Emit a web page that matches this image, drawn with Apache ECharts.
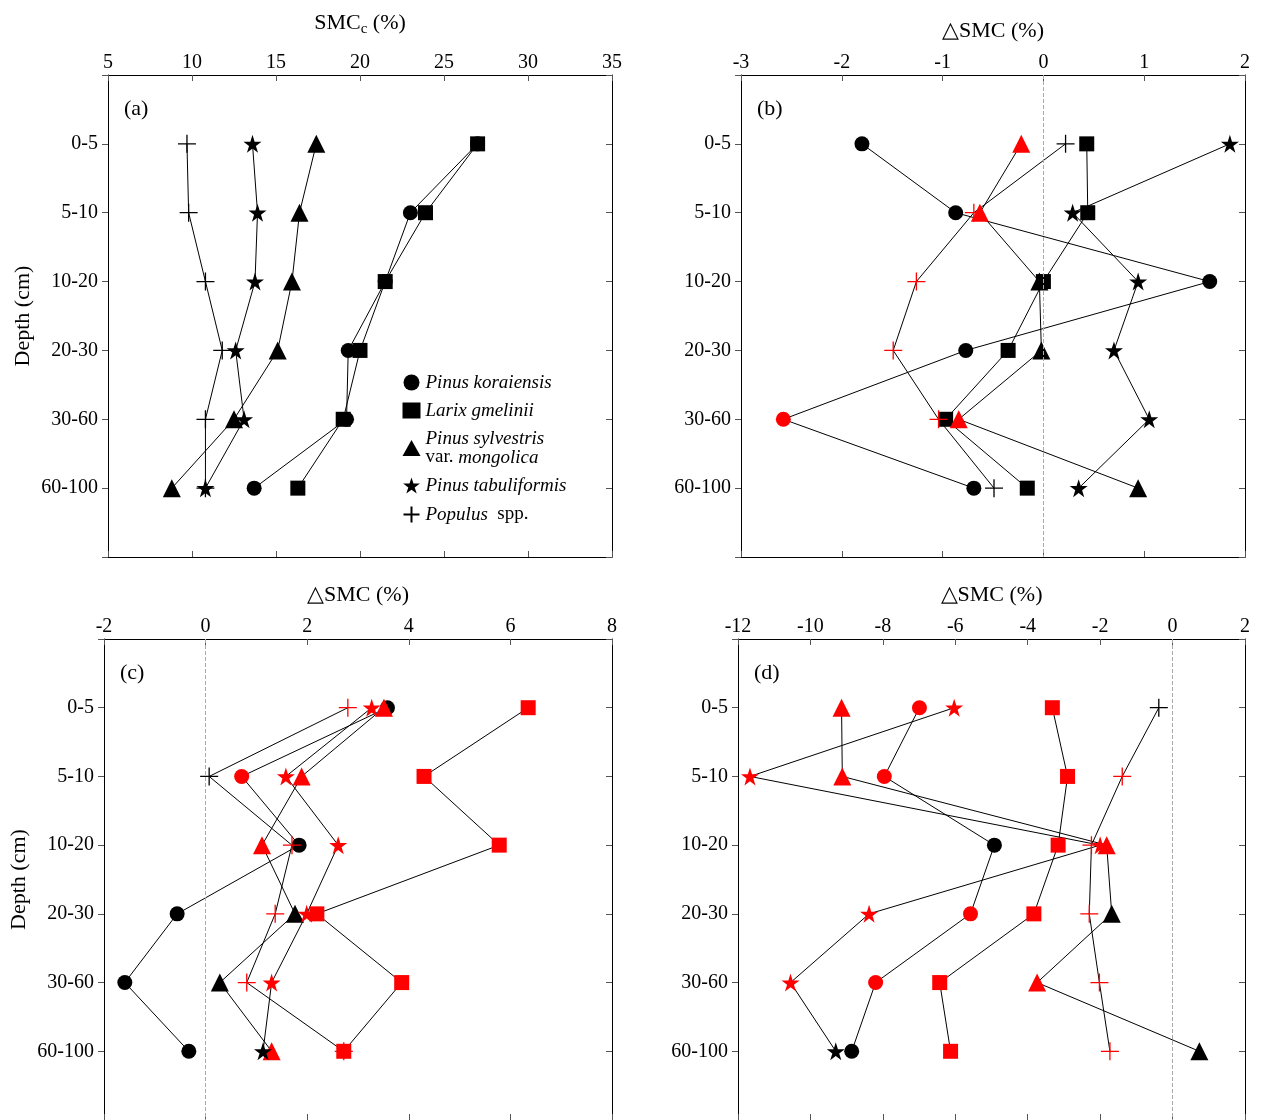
<!DOCTYPE html>
<html>
<head>
<meta charset="utf-8">
<script src="https://cdn.jsdelivr.net/npm/echarts@6/dist/echarts.min.js"></script>
<style>
  html,body{margin:0;padding:0;background:#fff;}
  #chart{width:1261px;height:1120px;}
</style>
</head>
<body>
<div id="chart"></div>
<script>
// depth classes (rows 1..6)
const depths = ["0-5", "5-10", "10-20", "20-30", "30-60", "60-100"];
const speciesNames = ["Pinus koraiensis", "Larix gmelinii", "Pinus sylvestris var. mongolica", "Pinus tabuliformis", "Populus spp."];

// (a) SMCc (%)
const aKor = [27.0, 23.0, 21.5, 19.3, 19.2, 13.7];
const aLar = [27.0, 23.9, 21.5, 20.0, 19.0, 16.3];
const aSyl = [17.4, 16.4, 15.95, 15.1, 12.5, 8.8];
const aTab = [13.6, 13.9, 13.75, 12.6, 13.1, 10.8];
const aPop = [9.7, 9.8, 10.8, 11.8, 10.8, 10.8];

// (b) delta SMC (%) and significance flags (1 = red)
const bKor = [-1.80, -0.87, 1.65, -0.77, -2.58, -0.69];
const bLar = [0.43, 0.44, 0.0, -0.35, -0.97, -0.16];
const bSyl = [-0.22, -0.63, -0.04, -0.02, -0.84, 0.94];
const bTab = [1.85, 0.29, 0.94, 0.70, 1.05, 0.35];
const bPop = [0.22, -0.69, -1.26, -1.49, -1.04, -0.49];
const bKorSig = [0, 0, 0, 0, 1, 0];
const bLarSig = [0, 0, 0, 0, 0, 0];
const bSylSig = [1, 1, 0, 0, 1, 0];
const bTabSig = [0, 0, 0, 0, 0, 0];
const bPopSig = [0, 1, 1, 1, 1, 0];

// (c)
const cKor = [3.58, 0.71, 1.84, -0.56, -1.59, -0.33];
const cLar = [6.35, 4.30, 5.78, 2.19, 3.86, 2.72];
const cSyl = [3.51, 1.89, 1.11, 1.76, 0.28, 1.30];
const cTab = [3.27, 1.58, 2.61, 1.99, 1.30, 1.13];
const cPop = [2.80, 0.07, 1.70, 1.37, 0.81, 2.72];
const cKorSig = [0, 1, 0, 0, 0, 0];
const cLarSig = [1, 1, 1, 1, 1, 1];
const cSylSig = [1, 1, 1, 0, 0, 1];
const cTabSig = [1, 1, 1, 1, 1, 0];
const cPopSig = [1, 0, 1, 1, 1, 1];

// (d)
const dKor = [-6.99, -7.96, -4.92, -5.58, -8.20, -8.86];
const dLar = [-3.32, -2.90, -3.16, -3.83, -6.43, -6.13];
const dSyl = [-9.14, -9.12, -1.82, -1.68, -3.74, 0.74];
const dTab = [-6.03, -11.67, -2.0, -8.38, -10.55, -9.30];
const dPop = [-0.38, -1.39, -2.24, -2.30, -2.02, -1.73];
const dKorSig = [1, 1, 0, 1, 1, 0];
const dLarSig = [1, 1, 1, 1, 1, 1];
const dSylSig = [1, 1, 1, 0, 1, 0];
const dTabSig = [1, 1, 1, 1, 1, 0];
const dPopSig = [0, 1, 1, 1, 1, 1];

const FONT = "Liberation Serif";
const RED = "#ff0000";
const STAR = "path://M0,-10L2.25,-3.09L9.51,-3.09L3.63,1.18L5.88,8.09L0,3.82L-5.88,8.09L-3.63,1.18L-9.51,-3.09L-2.25,-3.09Z";
const PLUS = "path://M0,-10L0,10M-10,0L10,0";
const symbols = ["circle", "rect", "triangle", STAR, PLUS];
const sizes = [15, 15, 18, 18, 18];

const grids = [
  {left: 108, width: 504, top: 75, height: 482},
  {left: 741, width: 504, top: 75, height: 482},
  {left: 104, width: 508, top: 639, height: 482},
  {left: 738, width: 507, top: 639, height: 482}
];
const xRanges = [[5, 35, 5], [-3, 2, 1], [-2, 8, 2], [-12, 2, 2]];

const line = {onZero: false, lineStyle: {color: "#000", width: 1}};
const xAxes = [], yAxes = [], series = [];
grids.forEach((g, gi) => {
  const [mn, mx, iv] = xRanges[gi];
  const nm = gi === 0 ? "SMC{s|c} (%)" : "△SMC (%)";
  xAxes.push({
    gridIndex: gi, type: "value", position: "top", min: mn, max: mx, interval: iv,
    name: nm, nameLocation: "middle", nameGap: gi === 0 ? 38 : 33,
    nameTextStyle: {fontFamily: FONT, fontSize: 22, color: "#000", rich: {s: {fontFamily: FONT, fontSize: 15, verticalAlign: "bottom", padding: [12, 0, 0, 0]}}},
    axisLine: line, axisTick: {inside: true, length: 6, lineStyle: {color: "#555"}},
    axisLabel: {fontFamily: FONT, fontSize: 20, color: "#000", margin: 2}, splitLine: {show: false}
  });
  xAxes.push({
    gridIndex: gi, type: "value", position: "bottom", min: mn, max: mx, interval: iv,
    axisLine: line, axisTick: {inside: true, length: 6, lineStyle: {color: "#555"}},
    axisLabel: {show: false}, splitLine: {show: false}
  });
  yAxes.push({
    gridIndex: gi, type: "value", inverse: true, min: 0, max: 7, interval: 1, position: "left",
    name: gi % 2 === 0 ? "Depth (cm)" : "", nameLocation: "middle", nameGap: 74,
    nameTextStyle: {fontFamily: FONT, fontSize: 22, color: "#000"},
    axisLine: line, axisTick: {inside: false, length: 6, lineStyle: {color: "#555"}},
    axisLabel: {fontFamily: FONT, fontSize: 20, color: "#000", margin: 10, formatter: v => depths[v - 1] || ""},
    splitLine: {show: false}
  });
  yAxes.push({
    gridIndex: gi, type: "value", inverse: true, min: 0, max: 7, interval: 1, position: "right",
    axisLine: {show: true, onZero: false, lineStyle: {color: "#000", width: 1}}, axisTick: {inside: true, length: 6, lineStyle: {color: "#555"}},
    axisLabel: {show: false}, splitLine: {show: false}
  });
});

const panels = [
  [[aKor, aLar, aSyl, aTab, aPop], null],
  [[bKor, bLar, bSyl, bTab, bPop], [bKorSig, bLarSig, bSylSig, bTabSig, bPopSig]],
  [[cKor, cLar, cSyl, cTab, cPop], [cKorSig, cLarSig, cSylSig, cTabSig, cPopSig]],
  [[dKor, dLar, dSyl, dTab, dPop], [dKorSig, dLarSig, dSylSig, dTabSig, dPopSig]]
];

panels.forEach(([vals, sigs], gi) => {
  vals.forEach((arr, si) => {
    const isPlus = si === 4;
    const data = arr.map((v, i) => {
      const c = sigs && sigs[si][i] ? RED : "#000";
      return {value: [v, i + 1], itemStyle: isPlus ? {color: "none", borderColor: c, borderWidth: 1.3} : {color: c}};
    });
    const s = {
      name: speciesNames[si], type: "line", xAxisIndex: gi * 2, yAxisIndex: gi * 2,
      data, symbol: symbols[si], symbolSize: sizes[si], showAllSymbol: true,
      lineStyle: {color: "#000", width: 1}, animation: false, z: 3,
      itemStyle: isPlus ? {color: "none", borderColor: "#000", borderWidth: 1.3} : {color: "#000"}
    };
    if (gi > 0 && si === 0) {
      s.markLine = {silent: true, symbol: "none", label: {show: false},
        lineStyle: {color: "#aaa", type: "dashed", width: 1}, data: [{xAxis: 0}]};
    }
    series.push(s);
  });
});

const letters = ["(a)", "(b)", "(c)", "(d)"];
const graphic = grids.map((g, i) => ({
  type: "text", left: g.left + 16, top: g.top + 23,
  style: {text: letters[i], font: "22px " + FONT, fill: "#000"}
}));

const chart = echarts.init(document.getElementById("chart"));
chart.setOption({
  backgroundColor: "#fff",
  animation: false,
  grid: grids,
  xAxis: xAxes,
  yAxis: yAxes,
  graphic,
  legend: {
    left: 396, top: 368, orient: "vertical", itemGap: 9, itemWidth: 18, itemHeight: 16,
    data: speciesNames.map((n, i) => ({name: n, icon: symbols[i]})), selectedMode: false,
    lineStyle: {width: 0},
    textStyle: {fontFamily: FONT, fontSize: 19, color: "#000",
      rich: {i: {fontFamily: FONT, fontSize: 19, fontStyle: "italic"}, n: {fontFamily: FONT, fontSize: 19}}},
    formatter: n => n === "Pinus sylvestris var. mongolica" ? "{i|Pinus sylvestris}\n{n|var. }{i|mongolica}"
      : n === "Populus spp." ? "{i|Populus}{n|  spp.}" : "{i|" + n + "}"
  },
  series
});
</script>
</body>
</html>
